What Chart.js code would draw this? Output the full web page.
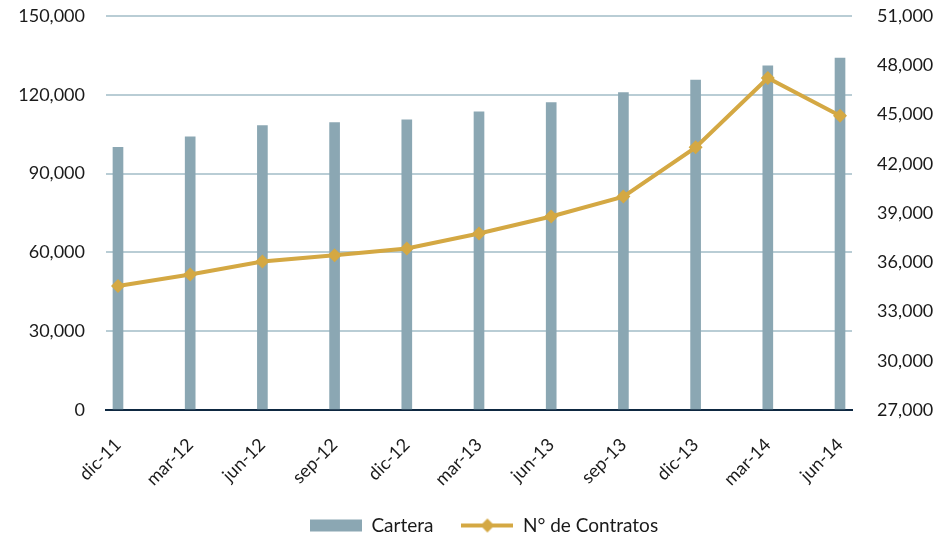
<!DOCTYPE html>
<html>
<head>
<meta charset="utf-8">
<script src="https://cdn.jsdelivr.net/npm/chart.js@4"></script>
<style>
html,body{margin:0;padding:0;background:#fff;}
#wrap{width:940px;height:541px;position:relative;}
</style>
</head>
<body>
<div id="wrap"><canvas id="c" width="940" height="541"></canvas></div>
<script>
const categories = ['dic-11','mar-12','jun-12','sep-12','dic-12','mar-13','jun-13','sep-13','dic-13','mar-14','jun-14'];
const cartera = [100000,104000,108300,109400,110500,113500,117000,120800,125600,131000,134000];
const contratos = [34550,35250,36050,36420,36840,37750,38790,40000,43000,47220,44920];
const leftTicks = [0,30000,60000,90000,120000,150000];
const rightTicks = [27000,30000,33000,36000,39000,42000,45000,48000,51000];

const barColor = '#8ba7b3';
const lineColor = '#d4a843';
const gridColor = '#b9cdd5';
const axisColor = '#0e2841';
const FONT = 'Lato, "Open Sans", sans-serif';
const TXT = '#1a1a1a';

function fmt(v){ return v.toLocaleString('en-US'); }

function barIcon(){
  const c = document.createElement('canvas'); c.width = 52; c.height = 18;
  const x = c.getContext('2d'); x.fillStyle = barColor; x.fillRect(0,3,52,12); return c;
}
function lineIcon(){
  const c = document.createElement('canvas'); c.width = 52; c.height = 18;
  const x = c.getContext('2d');
  x.strokeStyle = lineColor; x.lineWidth = 4; x.beginPath(); x.moveTo(0,9); x.lineTo(52,9); x.stroke();
  x.fillStyle = lineColor; x.beginPath(); x.moveTo(26,2); x.lineTo(33,9); x.lineTo(26,16); x.lineTo(19,9); x.closePath(); x.fill();
  return c;
}
const icons = [barIcon(), lineIcon()];

const shiftLegend = {
  id: 'shiftLegend',
  afterLayout(chart) {
    const lg = chart.legend; if (!lg) return;
    const dx = 14;
    lg.left += dx; lg.right += dx;
    if (lg.legendHitBoxes) lg.legendHitBoxes.forEach(h => { h.left += dx; });
  }
};

new Chart(document.getElementById('c'), {
  data: {
    datasets: [
      {
        type: 'line', label: 'N° de Contratos', yAxisID: 'y2', xAxisID: 'x',
        data: contratos.map((v,i)=>({x:i,y:v})),
        borderColor: lineColor, backgroundColor: lineColor, borderWidth: 4,
        pointStyle: 'rectRot', pointRadius: 7, pointHoverRadius: 7,
        pointBackgroundColor: lineColor, pointBorderWidth: 0, tension: 0, order: 0
      },
      {
        type: 'bar', label: 'Cartera', yAxisID: 'y', xAxisID: 'x',
        data: cartera.map((v,i)=>({x:i,y:v})),
        backgroundColor: barColor, barThickness: 10, order: 1
      }
    ]
  },
  plugins: [shiftLegend],
  options: {
    responsive: false, animation: false,
    layout: { padding: { left: 0, right: 0, top: 16, bottom: -4 } },
    plugins: {
      tooltip: { enabled: false },
      legend: {
        position: 'bottom',
        labels: {
          usePointStyle: true, pointStyleWidth: 52, boxHeight: 18,
          font: { family: FONT, size: 19 }, color: TXT, padding: 28,
          generateLabels: (chart) => [
            { text: 'Cartera', pointStyle: icons[0], fillStyle: barColor, strokeStyle: barColor, lineWidth: 0, datasetIndex: 1, fontColor: TXT },
            { text: 'N° de Contratos', pointStyle: icons[1], fillStyle: lineColor, strokeStyle: lineColor, lineWidth: 0, datasetIndex: 0, fontColor: TXT }
          ]
        }
      }
    },
    scales: {
      x: {
        type: 'linear', min: -0.166, max: 10.166, offset: false,
        afterBuildTicks: (s) => { s.ticks = categories.map((_, i) => ({ value: i })); },
        afterFit: (s) => { s.height = 78; s.paddingLeft = 0; s.paddingRight = 0; },
        ticks: {
          autoSkip: false, minRotation: 45, maxRotation: 45, padding: 24,
          font: { family: FONT, size: 18 }, color: TXT,
          callback: (v) => categories[v] ?? ''
        },
        grid: { display: false, drawTicks: false },
        border: { display: true, color: axisColor, width: 2 }
      },
      y: {
        position: 'left', min: 0, max: 150000,
        afterBuildTicks: (s) => { s.ticks = leftTicks.map(v => ({ value: v })); },
        afterFit: (s) => { s.width = 106; s.paddingTop = 0; s.paddingBottom = 0; },
        ticks: { font: { family: FONT, size: 18 }, color: TXT, padding: 21, callback: (v) => fmt(v) },
        grid: { color: gridColor, lineWidth: 2, drawTicks: false },
        border: { display: false }
      },
      y2: {
        position: 'right', min: 27000, max: 51000,
        afterBuildTicks: (s) => { s.ticks = rightTicks.map(v => ({ value: v })); },
        afterFit: (s) => { s.width = 88; s.paddingTop = 0; s.paddingBottom = 0; },
        ticks: { font: { family: FONT, size: 18 }, color: TXT, padding: 25, callback: (v) => fmt(v) },
        grid: { display: false, drawTicks: false },
        border: { display: false }
      }
    }
  }
});
</script>
</body>
</html>
